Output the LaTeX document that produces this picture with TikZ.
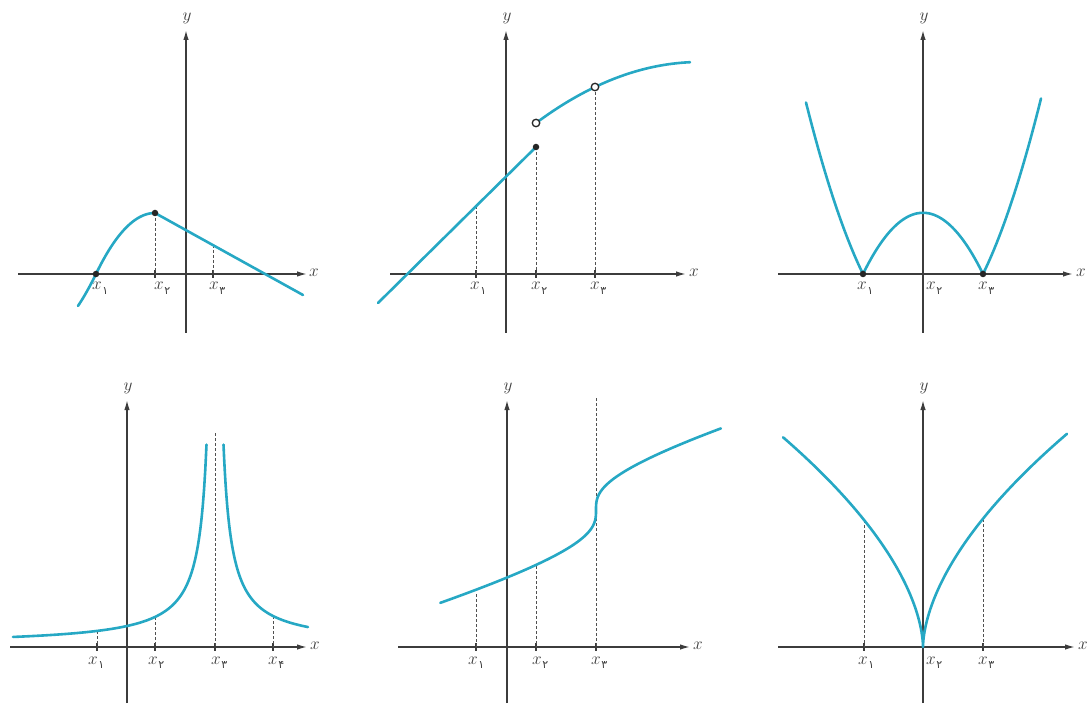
\documentclass[tikz,border=0pt]{standalone}
\usepackage{fontspec}
\newfontfamily\pfont{DejaVu Sans}
\usetikzlibrary{arrows.meta}
\definecolor{curvec}{RGB}{38,168,196}
\definecolor{axisc}{RGB}{60,60,60}
\newcommand\xlab[1]{$x$\kern0.5pt\raisebox{-4.5pt}{\pfont\fontsize{11}{12}\selectfont #1}}
\begin{document}
\begin{tikzpicture}[x=1pt,y=-1pt,
  axis/.style={draw=axisc,line width=1.5pt,-{Latex[length=10pt,width=5.5pt]}},
  curve/.style={draw=curvec,line width=2.6pt,line cap=round,line join=round},
  dashline/.style={draw=axisc!90,line width=1pt,dash pattern=on 3pt off 2pt},
  tickm/.style={draw=axisc,line width=1.1pt},
  lab/.style={anchor=base west,inner sep=0pt,text=axisc,font=\fontsize{18}{20}\selectfont},
  axlab/.style={inner sep=0pt,text=axisc,font=\fontsize{18}{20}\selectfont},
  dot/.style={circle,fill=black!85,inner sep=0pt,minimum size=6.5pt},
  odot/.style={circle,draw=black!85,fill=white,line width=1.3pt,inner sep=0pt,minimum size=7.5pt}
]
\useasboundingbox (0,0) rectangle (1092,708);

% ================= Panel 1 (top-left) =================
\coordinate (a1l) at (18,274);  \coordinate (a1r) at (307,274);
\coordinate (a1b) at (186,333); \coordinate (a1t) at (186,30);
\draw[axis] (a1l) -- (a1r);
\draw[axis] (a1b) -- (a1t);
\node[axlab,anchor=west] (p1x) at (309,273) {$x$};
\node[axlab,anchor=base] (p1y) at (187,21) {$y$};
\coordinate (p1pk) at (155,213); \coordinate (p1e) at (303,295);
\coordinate (p1q) at (213,245);
\coordinate (p1t2) at (155,274); \coordinate (p1t3) at (213,274);
\draw[tickm] (155,270) -- (155,278);
\draw[tickm] (213,270) -- (213,278);
\draw[dashline] (p1pk) -- (p1t2);
\draw[dashline] (p1q) -- (p1t3);
\draw[curve] plot[domain=78:155,samples=60] (\x,{213+1.75*((\x-155)/10)^2-0.1*max(0,96-\x)*max(0,96-\x)/3}) -- (p1e);
\node[dot] (p1d1) at (96,274) {};
\node[dot] (p1d2) at (p1pk) {};
\node[lab] (p1l1) at (92,290) {\xlab{۱}};
\node[lab] (p1l2) at (154,290) {\xlab{۲}};
\node[lab] (p1l3) at (209,290) {\xlab{۳}};

% ================= Panel 2 (top-middle) =================
\coordinate (a2l) at (390,274);  \coordinate (a2r) at (686,274);
\coordinate (a2b) at (506,333); \coordinate (a2t) at (506,30);
\draw[axis] (a2l) -- (a2r);
\draw[axis] (a2b) -- (a2t);
\node[axlab,anchor=west] (p2x) at (689,273) {$x$};
\node[axlab,anchor=base] (p2y) at (507,21) {$y$};
\coordinate (p2s) at (378,303); \coordinate (p2f) at (536,147);
\coordinate (p2o1) at (536,123); \coordinate (p2o2) at (595,87);
\coordinate (p2q) at (476,206);
\draw[tickm] (476,270) -- (476,278);
\draw[tickm] (536,270) -- (536,278);
\draw[tickm] (595,270) -- (595,278);
\draw[dashline] (p2q) -- (476,274);
\draw[dashline] (p2f) -- (536,274);
\draw[dashline] (p2o2) -- (595,274);
\draw[curve] (p2s) -- (p2f);
\draw[curve] plot[domain=536:690,samples=60] (\x,{62+0.227*((\x-700)/10)^2});
\node[dot] (p2d) at (p2f) {};
\node[odot] (p2c1) at (p2o1) {};
\node[odot] (p2c2) at (p2o2) {};
\node[lab] (p2l1) at (470,290) {\xlab{۱}};
\node[lab] (p2l2) at (531,290) {\xlab{۲}};
\node[lab] (p2l3) at (590,290) {\xlab{۳}};

% ================= Panel 3 (top-right) =================
\coordinate (a3l) at (778,274);  \coordinate (a3r) at (1073,274);
\coordinate (a3b) at (923,333); \coordinate (a3t) at (923,30);
\draw[axis] (a3l) -- (a3r);
\draw[axis] (a3b) -- (a3t);
\node[axlab,anchor=west] (p3x) at (1076,273) {$x$};
\node[axlab,anchor=base] (p3y) at (924,21) {$y$};
\draw[curve] plot[domain=806:863,samples=50] (\x,{274-1.7*(((\x-923)/10)^2-36)})
  -- plot[domain=863:983,samples=80] (\x,{274-1.7*(36-((\x-923)/10)^2)})
  -- plot[domain=983:1041,samples=50] (\x,{274-1.7*(((\x-923)/10)^2-36)});
\node[dot] (p3d1) at (863,274) {};
\node[dot] (p3d2) at (983,274) {};
\node[lab] (p3l1) at (857,290) {\xlab{۱}};
\node[lab] (p3l2) at (926,290) {\xlab{۲}};
\node[lab] (p3l3) at (978,290) {\xlab{۳}};

% ================= Panel 4 (bottom-left) =================
\coordinate (a4l) at (10,647);  \coordinate (a4r) at (307,647);
\coordinate (a4b) at (127,703); \coordinate (a4t) at (127,400);
\draw[axis] (a4l) -- (a4r);
\draw[axis] (a4b) -- (a4t);
\node[axlab,anchor=west] (p4x) at (310,646) {$x$};
\node[axlab,anchor=base] (p4y) at (128,391) {$y$};
\draw[tickm] (97,643) -- (97,651);
\draw[tickm] (155,643) -- (155,651);
\draw[tickm] (215,643) -- (215,651);
\draw[tickm] (273,643) -- (273,651);
\draw[dashline] (97,631) -- (97,647);
\draw[dashline] (155,617) -- (155,647);
\draw[dashline] (273,616) -- (273,647);
\draw[dashline] (215,433) -- (215,647);
\draw[curve] plot[domain=13:206.5,samples=160] (\x,{647-1.6-1707/(215-\x)});
\draw[curve] plot[domain=223.5:308,samples=120] (\x,{647-1.6-1707/(\x-215)});
\node[lab] (p4l1) at (88,664) {\xlab{۱}};
\node[lab] (p4l2) at (148,664) {\xlab{۲}};
\node[lab] (p4l3) at (211,664) {\xlab{۳}};
\node[lab] (p4l4) at (268,664) {\xlab{۴}};

% ================= Panel 5 (bottom-middle) =================
\coordinate (a5l) at (398,647);  \coordinate (a5r) at (690,647);
\coordinate (a5b) at (507,703); \coordinate (a5t) at (507,400);
\draw[axis] (a5l) -- (a5r);
\draw[axis] (a5b) -- (a5t);
\node[axlab,anchor=west] (p5x) at (693,646) {$x$};
\node[axlab,anchor=base] (p5y) at (508,391) {$y$};
\draw[tickm] (476,643) -- (476,651);
\draw[tickm] (536,643) -- (536,651);
\draw[tickm] (596,643) -- (596,651);
\draw[dashline] (476,594) -- (476,647);
\draw[dashline] (536,566) -- (536,647);
\draw[dashline] (596,398) -- (596,647);
\draw[curve] plot[domain=-5.38:5.0,samples=200,variable=\t]
  ({596+\t*\t*\t},{510-0.237*\t*\t*\t-10.4*\t});
\node[lab] (p5l1) at (468,664) {\xlab{۱}};
\node[lab] (p5l2) at (532,664) {\xlab{۲}};
\node[lab] (p5l3) at (591,664) {\xlab{۳}};

% ================= Panel 6 (bottom-right) =================
\coordinate (a6l) at (778,647);  \coordinate (a6r) at (1075,647);
\coordinate (a6b) at (923,703); \coordinate (a6t) at (923,400);
\draw[axis] (a6l) -- (a6r);
\draw[axis] (a6b) -- (a6t);
\node[axlab,anchor=west] (p6x) at (1078,646) {$x$};
\node[axlab,anchor=base] (p6y) at (924,391) {$y$};
\coordinate (p6o) at (923,647);
\draw[tickm] (864,643) -- (864,651);
\draw[tickm] (983,643) -- (983,651);
\draw[dashline] (864,520) -- (864,647);
\draw[dashline] (983,519) -- (983,647);
\draw[curve] plot[domain=11.83:0.03,samples=120,variable=\t] ({923-\t*\t},{647-11.94*(\t)^1.16})
  -- (p6o)
  -- plot[domain=0.03:12,samples=120,variable=\t] ({923+\t*\t},{647-11.94*(\t)^1.16});
\node[lab] (p6l1) at (858,664) {\xlab{۱}};
\node[lab] (p6l2) at (926,664) {\xlab{۲}};
\node[lab] (p6l3) at (978,664) {\xlab{۳}};
\end{tikzpicture}
\end{document}
